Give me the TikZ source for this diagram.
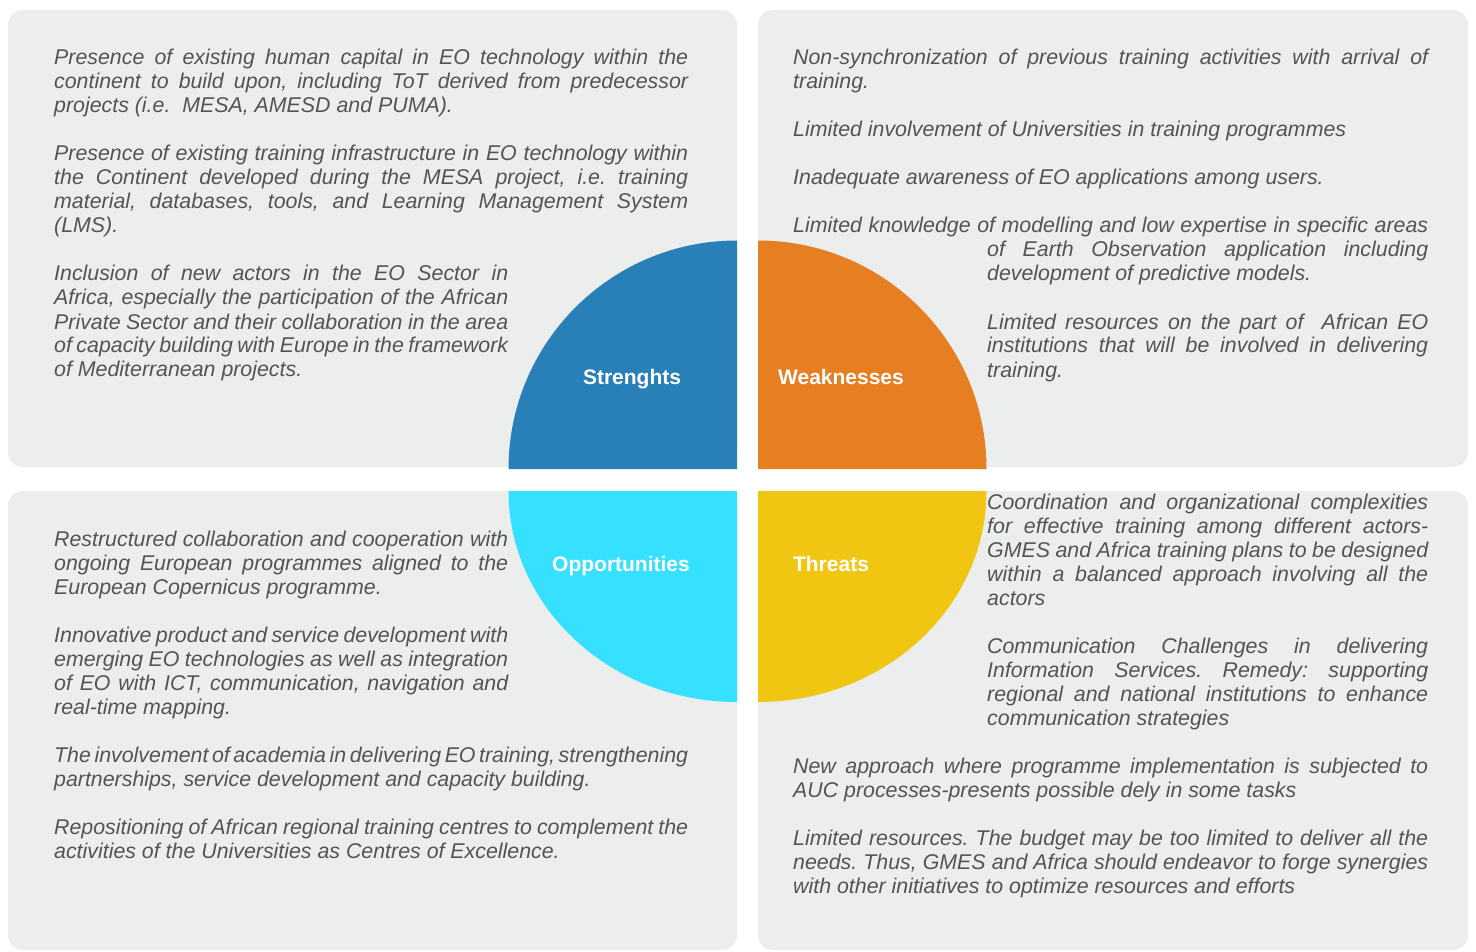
\documentclass[tikz,border=0pt]{standalone}
\usepackage{fontspec}
\setmainfont{Liberation Sans}
\definecolor{panelgray}{RGB}{235,238,237}
\definecolor{txtgray}{RGB}{82,84,86}
\definecolor{sblue}{RGB}{41,128,185}
\definecolor{sorange}{RGB}{230,126,34}
\definecolor{scyan}{RGB}{54,224,255}
\definecolor{syellow}{RGB}{240,198,18}
\tikzset{
  panel/.style={fill=panelgray, rounded corners=15pt},
  para/.style={anchor=base west, inner sep=0pt, text=txtgray, font=\fontsize{21.35}{24}\selectfont\itshape},
  title/.style={anchor=base, text=white, font=\fontsize{21}{24}\selectfont\bfseries, inner sep=0pt}
}
\newcommand{\ptext}[2]{\parbox[t]{#1}{\frenchspacing\spaceskip=.278em plus .25em minus .12em\tolerance=10000\hyphenpenalty=10000\exhyphenpenalty=10000\emergencystretch=20pt #2}}
\begin{document}
\begin{tikzpicture}[x=1pt,y=-1pt]
\useasboundingbox (0,0) rectangle (1476,952);
\fill[white] (0,0) rectangle (1476,952);
% panels
\fill[panel] (8,10) rectangle (737,467);
\fill[panel] (758,10) rectangle (1468,467);
\fill[panel] (8,491) rectangle (737,950);
\fill[panel] (758,491) rectangle (1468,950);
% quarter shapes
\fill[sblue] (737,469) -- (508.5,469) arc[start angle=180, end angle=270, radius=228.5] -- cycle;
\fill[sorange] (758,469) -- (986.5,469) arc[start angle=0, end angle=-90, radius=228.5] -- cycle;
\fill[scyan] (737,491) -- (508.5,491) arc[start angle=180, end angle=90, x radius=228.5, y radius=211] -- cycle;
\fill[syellow] (758,491) -- (986.5,491) arc[start angle=0, end angle=90, x radius=228.5, y radius=211] -- cycle;
% titles
\node[title] (ts) at (632,384.5) {Strenghts};
\node[title] (tw) at (841,384.5) {Weaknesses};
\node[title] (to) at (621,571.5) {Opportunities};
\node[title] (tt) at (831,571.5) {Threats};
% Strengths
\node[para] (s1) at (54,65) {\ptext{634pt}{Presence of existing human capital in EO technology within the\linebreak continent to build upon, including ToT derived from predecessor\linebreak projects (i.e.\ \ MESA, AMESD and PUMA).}};
\node[para] (s2) at (54,161) {\ptext{634pt}{Presence of existing training infrastructure in EO technology within\linebreak the Continent developed during the MESA project, i.e. training\linebreak material, databases, tools, and Learning Management System\linebreak (LMS).}};
\node[para] (s3) at (54,281) {\ptext{454pt}{Inclusion of new actors in the EO Sector in\linebreak Africa, especially the participation of the African\linebreak Private Sector and their collaboration in the area\linebreak of capacity building with Europe in the framework\linebreak of Mediterranean projects.}};
% Weaknesses
\node[para] (w1) at (793,65) {\ptext{635pt}{Non-synchronization of previous training activities with arrival of\linebreak training.}};
\node[para] (w2) at (793,137) {\ptext{635pt}{Limited involvement of Universities in training programmes}};
\node[para] (w3) at (793,185) {\ptext{635pt}{Inadequate awareness of EO applications among users.}};
\node[para] (w4) at (793,233) {\ptext{635pt}{\hangindent=194pt\hangafter=1 Limited knowledge of modelling and low expertise in specific areas\linebreak of Earth Observation application including\linebreak development of predictive models.}};
\node[para] (w5) at (987,329) {\ptext{441pt}{Limited resources on the part of\ \ African EO\linebreak institutions that will be involved in delivering\linebreak training.}};
% Opportunities
\node[para] (o1) at (54,546) {\ptext{454pt}{Restructured collaboration and cooperation with\linebreak ongoing European programmes aligned to the\linebreak European Copernicus programme.}};
\node[para] (o2) at (54,642) {\ptext{454pt}{Innovative product and service development with\linebreak emerging EO technologies as well as integration\linebreak of EO with ICT, communication, navigation and\linebreak real-time mapping.}};
\node[para] (o3) at (54,762) {\ptext{634pt}{The involvement of academia in delivering EO training, strengthening\linebreak partnerships, service development and capacity building.}};
\node[para] (o4) at (54,834) {\ptext{634pt}{Repositioning of African regional training centres to complement the\linebreak activities of the Universities as Centres of Excellence.}};
% Threats
\node[para] (t1) at (987,509) {\ptext{441pt}{Coordination and organizational complexities\linebreak for effective training among different actors-\linebreak GMES and Africa training plans to be designed\linebreak within a balanced approach involving all the\linebreak actors}};
\node[para] (t2) at (987,653) {\ptext{441pt}{Communication Challenges in delivering\linebreak Information Services. Remedy: supporting\linebreak regional and national institutions to enhance\linebreak communication strategies}};
\node[para] (t3) at (793,773) {\ptext{635pt}{New approach where programme implementation is subjected to\linebreak AUC processes-presents possible dely in some tasks}};
\node[para] (t4) at (793,845) {\ptext{635pt}{Limited resources. The budget may be too limited to deliver all the\linebreak needs. Thus, GMES and Africa should endeavor to forge synergies\linebreak with other initiatives to optimize resources and efforts}};
\end{tikzpicture}
\end{document}
